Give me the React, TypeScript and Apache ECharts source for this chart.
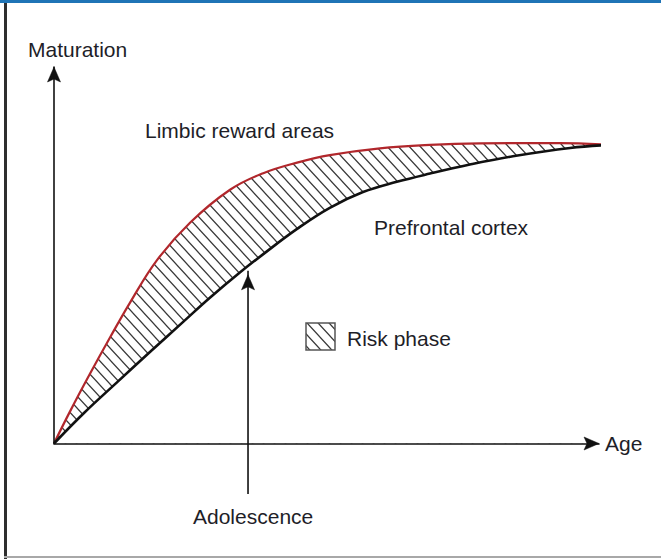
import React, { useEffect, useRef } from "react";
import * as echarts from "echarts";

// Limbic reward areas (red curve)
const limbicAge = [0, 2.9, 6.6, 10.3, 13.9, 18.9, 25.0, 32.3, 38.4, 44.6, 50.6, 59.8, 69.0, 78.2, 92.8, 102.0];
const limbicMat = [0, 8.4, 18.5, 28.2, 37.3, 48.7, 58.7, 67.4, 71.8, 74.6, 76.6, 78.4, 79.3, 79.7, 79.8, 79.3];

// Prefrontal cortex (black curve)
const cortexAge = [0, 5.5, 11.6, 17.6, 23.7, 28.6, 34.1, 38.4, 44.6, 50.6, 56.7, 62.9, 69.0, 76.3, 84.2, 94.7, 102.0];
const cortexMat = [0, 8.1, 16.3, 24.3, 32.3, 38.7, 45.4, 50.3, 57.0, 62.6, 66.8, 69.5, 71.7, 74.1, 76.3, 78.5, 79.3];

// Adolescence marker (age, from maturation below the axis to the arrow tip)
const adolescenceAge = 35.6;
const adolescenceFrom = -13.4;
const adolescenceTo = 44.8;

const axisMin = 0;
const axisMax = 100;

const labels = {
  yName: "Maturation",
  xName: "Age",
  limbic: "Limbic reward areas",
  cortex: "Prefrontal cortex",
  legend: "Risk phase",
  adolescence: "Adolescence",
};

const FONT = "'Liberation Sans', Arial, Helvetica, sans-serif";
const TEXT_COLOR = "#1e1e28";

function makeHatch() {
  const w = 11;
  const h = 12;
  const c = document.createElement("canvas");
  c.width = w;
  c.height = h;
  const ctx = c.getContext("2d")!;
  ctx.fillStyle = "#ffffff";
  ctx.fillRect(0, 0, w, h);
  ctx.strokeStyle = "#3a3a3a";
  ctx.lineWidth = 1.25;
  ctx.beginPath();
  ctx.moveTo(-w, -h);
  ctx.lineTo(2 * w, 2 * h);
  ctx.moveTo(-w, 0);
  ctx.lineTo(w, 2 * h);
  ctx.moveTo(0, -h);
  ctx.lineTo(2 * w, h);
  ctx.stroke();
  return { image: c.toDataURL(), repeat: "repeat", imageWidth: w, imageHeight: h } as any;
}

function txt(text: string, x: number, y: number) {
  return {
    type: "text",
    x,
    y,
    z: 20,
    style: {
      text,
      fill: TEXT_COLOR,
      font: `21px ${FONT}`,
      fontSize: 21,
      fontFamily: FONT,
      align: "left",
      verticalAlign: "middle",
      textAlign: "left",
      textVerticalAlign: "middle",
    },
  };
}

function arrowHead(tip: number[], from: number[]) {
  const dx = tip[0] - from[0];
  const dy = tip[1] - from[1];
  const len = Math.sqrt(dx * dx + dy * dy) || 1;
  const ux = dx / len;
  const uy = dy / len;
  const px = -uy;
  const py = ux;
  const L = 15;
  const hw = 6.5;
  const notch = 3;
  return {
    type: "polygon",
    z: 25,
    shape: {
      points: [
        [tip[0], tip[1]],
        [tip[0] - ux * L + px * hw, tip[1] - uy * L + py * hw],
        [tip[0] - ux * (L - notch), tip[1] - uy * (L - notch)],
        [tip[0] - ux * L - px * hw, tip[1] - uy * L - py * hw],
      ],
    },
    style: { fill: "#111", stroke: "#111", lineWidth: 0.5 },
  };
}

export default function App() {
  const ref = useRef<HTMLDivElement>(null);
  useEffect(() => {
    if (!ref.current) return;
    const chart = echarts.init(ref.current, null, { renderer: "svg" });
    const hatch = makeHatch();
    const axisCommon = {
      type: "value" as const,
      min: axisMin,
      max: axisMax,
      z: 6,
      axisLine: {
        show: true,
        lineStyle: { color: "#111", width: 1.6 },
      },
      axisTick: { show: false },
      axisLabel: { show: false },
      splitLine: { show: false },
    };
    chart.setOption({
      animation: false,
      backgroundColor: "#ffffff",
      grid: { left: 54, right: 62, top: 67, bottom: 115.5 },
      xAxis: { ...axisCommon },
      yAxis: { ...axisCommon },
      series: [
        {
          type: "line",
          name: labels.limbic,
          data: limbicAge.map((a, i) => [a, limbicMat[i]]),
          smooth: 0.4,
          symbol: "none",
          clip: false,
          z: 2,
          lineStyle: { color: "#b1272c", width: 2.2 },
          areaStyle: { color: hatch, opacity: 1, origin: "start" },
        },
        {
          type: "line",
          name: labels.cortex,
          data: cortexAge.map((a, i) => [a, cortexMat[i]]),
          smooth: 0.4,
          symbol: "none",
          clip: false,
          z: 3,
          lineStyle: { color: "#111111", width: 2.6 },
          areaStyle: { color: "#ffffff", opacity: 1, origin: "start" },
        },
      ],
    });

    const toPx = (v: number[]) => chart.convertToPixel({ gridIndex: 0 }, v) as number[];
    const origin = toPx([axisMin, axisMin]);
    const xEnd = toPx([axisMax, axisMin]);
    const yEnd = toPx([axisMin, axisMax]);
    const adoFrom = toPx([adolescenceAge, adolescenceFrom]);
    const adoTo = toPx([adolescenceAge, adolescenceTo]);

    chart.setOption({
      graphic: [
        { type: "rect", z: 30, shape: { x: 0, y: 0, width: 661, height: 3 }, style: { fill: "#1f74b6" } },
        { type: "rect", z: 30, shape: { x: 4, y: 3, width: 3, height: 556 }, style: { fill: "#2e2e2e" } },
        { type: "rect", z: 30, shape: { x: 4, y: 556, width: 657, height: 2 }, style: { fill: "#a8a8a8" } },
        arrowHead(xEnd, origin),
        arrowHead(yEnd, origin),
        {
          type: "line",
          z: 24,
          shape: { x1: adoFrom[0], y1: adoFrom[1], x2: adoTo[0], y2: adoTo[1] - 4 },
          style: { stroke: "#111", lineWidth: 1.6 },
        },
        arrowHead(adoTo, adoFrom),
        txt(labels.yName, 28, 49),
        txt(labels.xName, 605, 443),
        txt(labels.limbic, 145, 130),
        txt(labels.cortex, 374, 227),
        txt(labels.legend, 347, 338),
        txt(labels.adolescence, 193, 516),
        {
          type: "rect",
          z: 20,
          shape: { x: 306, y: 323, width: 29, height: 27 },
          style: { fill: hatch, stroke: "#555", lineWidth: 1.5 },
        },
      ],
    });
    return () => chart.dispose();
  }, []);
  return (
    <div
      ref={ref}
      style={{ position: "fixed", left: 0, top: 0, width: 661, height: 559, background: "#fff" }}
    />
  );
}
